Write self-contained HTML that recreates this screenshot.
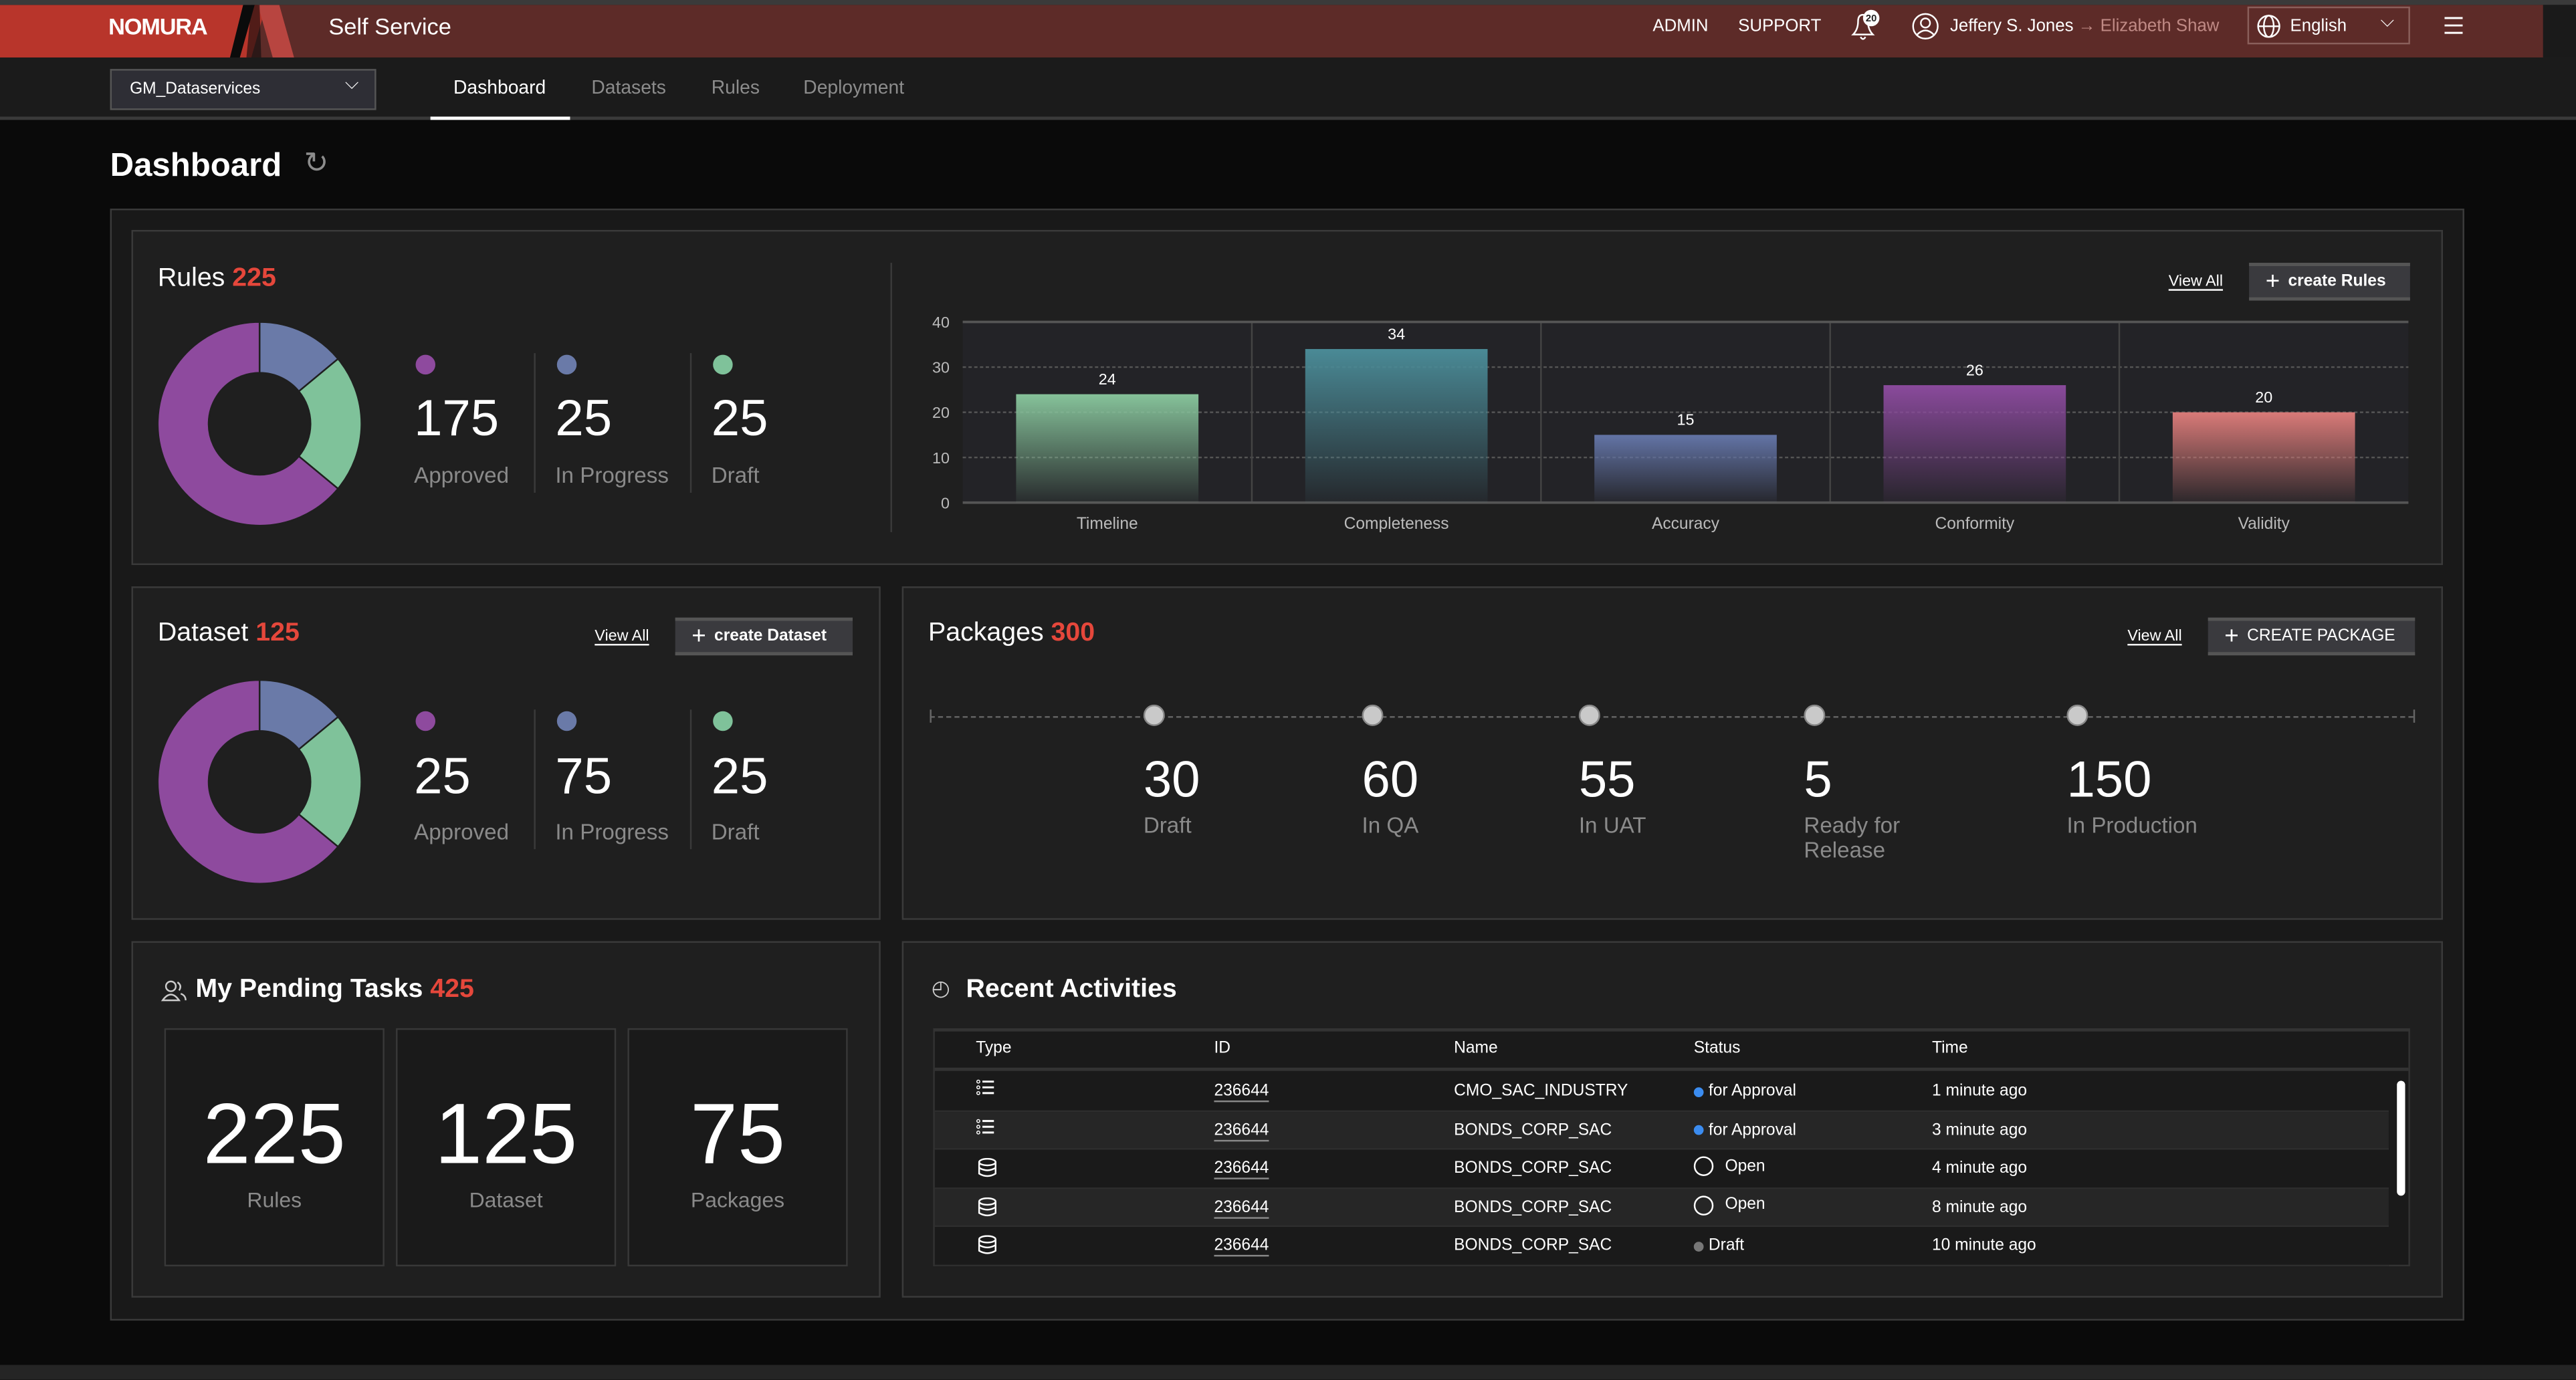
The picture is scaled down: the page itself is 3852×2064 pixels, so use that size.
<!DOCTYPE html>
<html><head><meta charset="utf-8">
<style>
*{box-sizing:border-box;margin:0;padding:0}
html,body{width:3852px;height:2062px;overflow:hidden;background:#0a0a0a}
body{font-family:"Liberation Sans",sans-serif;color:#fff}
#root{position:absolute;left:0;top:0;width:1568px;height:840px;transform:scale(2.45663);transform-origin:0 0;background:#0a0a0a}
.a{position:absolute}
.panel{position:absolute;background:#1f1f1f;border:1px solid #3a3a3a}
.t{position:absolute;white-space:nowrap}
.gray{color:#8c8c8c}
.red{color:#e5473b}
.btn{position:absolute;background:#3a3a3e;border-top:2px solid #555;border-bottom:2px solid #555;font-size:10px;font-weight:bold;display:flex;align-items:center;padding-left:10px}
.link{position:absolute;font-size:9.5px;text-decoration:underline;text-underline-offset:2px}
.num{position:absolute;font-size:31px}
.lab{position:absolute;font-size:13.5px;color:#8a8a8a}
.dot{position:absolute;width:12px;height:12px;border-radius:50%}
.sep{position:absolute;width:1px;background:#3a3a3a}
.box{position:absolute;background:#1a1a1a;border:1px solid #383838;top:626px;width:134px;height:145px}
.box .big{position:absolute;width:100%;text-align:center;top:34px;font-size:52px}
.box .sm{position:absolute;width:100%;text-align:center;top:96px;font-size:13px;color:#8a8a8a}
.row{position:absolute;left:569px;width:885px;height:23.5px;font-size:10px}
.row span{position:absolute;top:6px}
</style></head><body>
<div id="root">
<!-- header -->
<div class="a" style="left:0;top:0;width:1568px;height:3px;background:#3a3a3a"></div>
<div class="a" style="left:0;top:3px;width:1548px;height:32px;background:#5d2b28"></div>
<div class="a" style="left:1548px;top:3px;width:20px;height:32px;background:#1a1a1a"></div>
<svg class="a" style="left:0;top:3px" width="200" height="32">
<polygon points="0,0 148,0 140,32 0,32" fill="#b8352b"/>
<polygon points="148,0 157,0 147,32 140,32" fill="#0b0b0b"/>
<polygon points="155,0 162,0 153,32 146,32" fill="#b8352b"/>
<polygon points="157,0 170,0 179,32 166,32" fill="#b84540"/>
<polygon points="153,0 158,0 159,32 150,32" fill="#0b0b0b" opacity="0.6"/>
</svg>
<div class="t" style="left:66px;top:8px;font-size:14px;font-weight:bold;letter-spacing:-0.5px">NOMURA</div>
<div class="t" style="left:200px;top:8px;font-size:14px">Self Service</div>
<div class="t" style="left:1006px;top:10px;font-size:10.5px">ADMIN</div>
<div class="t" style="left:1058px;top:10px;font-size:10.5px">SUPPORT</div>
<svg class="a" style="left:1124px;top:5px" width="24" height="22">
<path d="M4 16 Q7 13 7 8 Q7 4 10 4 Q13 4 13 8 Q13 13 16 16 Z" fill="none" stroke="#fff" stroke-width="1"/>
<path d="M8.5 17.5 Q10 20 11.5 17.5" fill="none" stroke="#fff" stroke-width="1"/>
<circle cx="15" cy="6" r="5" fill="#fff"/>
<text x="15" y="8" font-size="6" text-anchor="middle" fill="#222" font-family="Liberation Sans" font-weight="bold">20</text>
</svg>
<svg class="a" style="left:1163px;top:7px" width="18" height="18">
<circle cx="9" cy="9" r="7.5" fill="none" stroke="#fff" stroke-width="1"/><circle cx="9" cy="7" r="2.8" fill="none" stroke="#fff" stroke-width="1"/><path d="M4 14 Q9 9 14 14" fill="none" stroke="#fff"/></svg>
<div class="t" style="left:1187px;top:10px;font-size:10.5px">Jeffery S. Jones <span style="color:#c08a85">→ Elizabeth Shaw</span></div>
<div class="a" style="left:1368px;top:4px;width:99px;height:23px;border:1px solid #8a5f5b"></div>
<svg class="a" style="left:1373px;top:8px" width="16" height="16"><circle cx="8" cy="8" r="6.5" fill="none" stroke="#fff"/><ellipse cx="8" cy="8" rx="3" ry="6.5" fill="none" stroke="#fff"/><line x1="1.5" y1="8" x2="14.5" y2="8" stroke="#fff"/></svg>
<div class="t" style="left:1394px;top:10px;font-size:10.5px">English</div>
<div class="t" style="left:1449px;top:7px;font-size:11px">⌵</div>
<svg class="a" style="left:1487px;top:10px" width="14" height="12"><path d="M1 1H12M1 5.5H12M1 10H12" stroke="#fff" stroke-width="1.2"/></svg>
<!-- subnav -->
<div class="a" style="left:0;top:35px;width:1568px;height:38px;background:#1b1b1b;border-bottom:2px solid #3a3a3a"></div>
<div class="a" style="left:67px;top:42px;width:162px;height:25px;background:#2e2e35;border:1px solid #555"></div>
<div class="t" style="left:79px;top:49px;font-size:10px">GM_Dataservices</div>
<div class="t" style="left:210px;top:45px;font-size:11px">⌵</div>
<div class="t" style="left:276px;top:48px;font-size:11.5px">Dashboard</div>
<div class="a" style="left:262px;top:71px;width:85px;height:2px;background:#fff"></div>
<div class="t gray" style="left:360px;top:48px;font-size:11.5px">Datasets</div>
<div class="t gray" style="left:433px;top:48px;font-size:11.5px">Rules</div>
<div class="t gray" style="left:489px;top:48px;font-size:11.5px">Deployment</div>
<div class="t" style="left:67px;top:90px;font-size:20px;font-weight:bold">Dashboard</div>
<div class="t gray" style="left:185px;top:89px;font-size:18px">↻</div>
<!-- container -->
<div class="a" style="left:67px;top:127px;width:1433px;height:677px;background:#191919;border:1px solid #3a3a3a"></div>
<!-- rules panel -->
<div class="panel" style="left:80px;top:140px;width:1407px;height:204px"></div>
<div class="t" style="left:96px;top:161px;font-size:16px">Rules <span class="red" style="font-weight:bold">225</span></div>
<svg class="a" id="donut1" style="left:96px;top:196px" width="124" height="124"></svg>
<div class="dot" style="left:253px;top:216px;background:#8e4a9e"></div>
<div class="dot" style="left:339px;top:216px;background:#6a7aa8"></div>
<div class="dot" style="left:434px;top:216px;background:#7fc29a"></div>
<div class="num" style="left:252px;top:237px">175</div><div class="lab" style="left:252px;top:282px">Approved</div>
<div class="sep" style="left:325px;top:215px;height:85px"></div>
<div class="num" style="left:338px;top:237px">25</div><div class="lab" style="left:338px;top:282px">In Progress</div>
<div class="sep" style="left:420px;top:215px;height:85px"></div>
<div class="num" style="left:433px;top:237px">25</div><div class="lab" style="left:433px;top:282px">Draft</div>
<div class="sep" style="left:542px;top:160px;height:164px"></div>
<div class="link" style="left:1320px;top:166px">View All</div>
<div class="btn" style="left:1369px;top:160px;width:98px;height:23px"><span style="font-size:15px;font-weight:normal;margin-right:5px">+</span>create Rules</div>
<svg class="a" id="barchart" style="left:540px;top:185px" width="940" height="150"></svg>
<!-- dataset panel -->
<div class="panel" style="left:80px;top:357px;width:456px;height:203px"></div>
<div class="t" style="left:96px;top:377px;font-size:16px">Dataset <span class="red" style="font-weight:bold">125</span></div>
<div class="link" style="left:362px;top:382px">View All</div>
<div class="btn" style="left:411px;top:376px;width:108px;height:23px"><span style="font-size:15px;font-weight:normal;margin-right:5px">+</span>create Dataset</div>
<svg class="a" id="donut2" style="left:96px;top:414px" width="124" height="124"></svg>
<div class="dot" style="left:253px;top:433px;background:#8e4a9e"></div>
<div class="dot" style="left:339px;top:433px;background:#6a7aa8"></div>
<div class="dot" style="left:434px;top:433px;background:#7fc29a"></div>
<div class="num" style="left:252px;top:455px">25</div><div class="lab" style="left:252px;top:499px">Approved</div>
<div class="sep" style="left:325px;top:432px;height:85px"></div>
<div class="num" style="left:338px;top:455px">75</div><div class="lab" style="left:338px;top:499px">In Progress</div>
<div class="sep" style="left:420px;top:432px;height:85px"></div>
<div class="num" style="left:433px;top:455px">25</div><div class="lab" style="left:433px;top:499px">Draft</div>
<!-- packages -->
<div class="panel" style="left:549px;top:357px;width:938px;height:203px"></div>
<div class="t" style="left:565px;top:377px;font-size:16px">Packages <span class="red" style="font-weight:bold">300</span></div>
<div class="link" style="left:1295px;top:382px">View All</div>
<div class="btn" style="left:1344px;top:376px;width:126px;height:23px;font-weight:normal"><span style="font-size:15px;margin-right:5px">+</span>CREATE PACKAGE</div>
<div class="a" style="left:566px;top:436px;width:903px;border-top:1px dashed #666"></div>
<div class="a" style="left:566px;top:432px;width:1px;height:8px;background:#666"></div>
<div class="a" style="left:1469px;top:432px;width:1px;height:8px;background:#666"></div>
<div id="pkgs"></div>
<!-- pending -->
<div class="panel" style="left:80px;top:573px;width:456px;height:217px"></div>
<svg class="a" style="left:98px;top:596px" width="16" height="14"><circle cx="6" cy="4.5" r="3" fill="none" stroke="#ccc"/><path d="M1 13 Q6 6 11 13 Z" fill="none" stroke="#ccc"/><path d="M10 2 Q13 4 11 7 M12 9 Q15 10 15 13" fill="none" stroke="#ccc"/></svg>
<div class="t" style="left:119px;top:594px;font-size:16px;font-weight:bold">My Pending Tasks <span class="red">425</span></div>
<div class="box" style="left:100px"><div class="big">225</div><div class="sm">Rules</div></div>
<div class="box" style="left:241px"><div class="big">125</div><div class="sm">Dataset</div></div>
<div class="box" style="left:382px"><div class="big">75</div><div class="sm">Packages</div></div>
<!-- recent -->
<div class="panel" style="left:549px;top:573px;width:938px;height:217px"></div>
<div class="t" style="left:567px;top:594px;font-size:13px;color:#ccc">◴</div>
<div class="t" style="left:588px;top:594px;font-size:16px;font-weight:bold">Recent Activities</div>
<div class="a" style="left:568px;top:626px;width:899px;height:145px;background:#1a1a1a;border:1px solid #333;border-top:2px solid #333"></div>
<div class="row" style="top:628px;height:24px;border-bottom:2px solid #333;width:897px"><span style="left:25px;top:5px">Type</span><span style="left:170px;top:5px">ID</span><span style="left:316px;top:5px">Name</span><span style="left:462px;top:5px">Status</span><span style="left:607px;top:5px">Time</span></div>
<div id="rows"></div>
<div class="a" style="left:1459px;top:658px;width:5px;height:70px;border-radius:3px;background:#fff"></div>
<div class="a" style="left:0;top:831px;width:1568px;height:9px;background:#252525"></div>
</div>
<script>
// donut data (share by slice)
const donutShares=[0.14,0.22,0.64];
const donutColors=['#6a7aa8','#7fc29a','#8e4a9e'];
function donut(id){
  const svg=document.getElementById(id);const cx=62,cy=62,R=62,r=31;
  const tot=donutShares.reduce((a,b)=>a+b,0);let a0=0;
  donutShares.forEach((v,i)=>{
    const a1=a0+v/tot*Math.PI*2;
    const p=(rad,ang)=>[cx+rad*Math.sin(ang),cy-rad*Math.cos(ang)];
    const [x0,y0]=p(R,a0),[x1,y1]=p(R,a1),[x2,y2]=p(r,a1),[x3,y3]=p(r,a0);
    const lg=(a1-a0)>Math.PI?1:0;
    const path=document.createElementNS('http://www.w3.org/2000/svg','path');
    path.setAttribute('d',`M${x0} ${y0}A${R} ${R} 0 ${lg} 1 ${x1} ${y1}L${x2} ${y2}A${r} ${r} 0 ${lg} 0 ${x3} ${y3}Z`);
    path.setAttribute('fill',donutColors[i]);path.setAttribute('stroke','#1f1f1f');path.setAttribute('stroke-width','1');
    
    
    svg.appendChild(path);a0=a1;
  });
}
donut('donut1');donut('donut2');

// bar chart data
const barCategories=['Timeline','Completeness','Accuracy','Conformity','Validity'];
const barValues=[24,34,15,26,20];
const barColors=['#86c29a','#4a8a96','#6374a6','#8a4a9c','#d97a78'];
const yTicks=[0,10,20,30,40];
(function(){
  const svg=document.getElementById('barchart');const NS='http://www.w3.org/2000/svg';
  const L=46,T=11,W=880,H=110,yMax=40;
  const y=v=>T+H-v/yMax*H; const colW=W/barCategories.length;
  let h=`<rect x="${L}" y="${T}" width="${W}" height="${H}" fill="#232327"/>`;
  h+='<defs>'+barColors.map((c,i)=>`<linearGradient id="g${i}" x1="0" y1="0" x2="0" y2="1"><stop offset="0" stop-color="${c}"/><stop offset="1" stop-color="${c}" stop-opacity="0.05"/></linearGradient>`).join('')+'</defs>';
  yTicks.forEach(t=>{ if(t>0&&t<yMax) h+=`<line x1="${L}" x2="${L+W}" y1="${y(t)}" y2="${y(t)}" stroke="#555" stroke-dasharray="2,1.5"/>`;
    h+=`<text x="${L-8}" y="${y(t)+3.5}" text-anchor="end" font-size="9.5" fill="#bbb" font-family="Liberation Sans">${t}</text>`;});
  for(let i=1;i<barCategories.length;i++) h+=`<line x1="${L+i*colW}" x2="${L+i*colW}" y1="${T}" y2="${T+H}" stroke="#444"/>`;
  h+=`<line x1="${L}" x2="${L+W}" y1="${T}" y2="${T}" stroke="#555" stroke-width="1.5"/><line x1="${L}" x2="${L+W}" y1="${T+H}" y2="${T+H}" stroke="#555" stroke-width="1.5"/>`;
  svg.innerHTML=h;
  barCategories.forEach((c,i)=>{
    const bx=L+i*colW+32.5,bw=111,top=y(barValues[i]);
    const rect=document.createElementNS(NS,'rect');
    rect.setAttribute('x',bx);rect.setAttribute('y',top);rect.setAttribute('width',bw);rect.setAttribute('height',T+H-top);rect.setAttribute('fill',`url(#g${i})`);
    
    
    svg.appendChild(rect);
    const v=document.createElementNS(NS,'text');v.textContent=barValues[i];
    v.setAttribute('x',bx+bw/2);v.setAttribute('y',top-6);v.setAttribute('text-anchor','middle');v.setAttribute('font-size','9.5');v.setAttribute('fill','#fff');v.setAttribute('font-family','Liberation Sans');
    
    
    svg.appendChild(v);
    const lb=document.createElementNS(NS,'text');lb.textContent=c;
    lb.setAttribute('x',bx+bw/2);lb.setAttribute('y',T+H+16);lb.setAttribute('text-anchor','middle');lb.setAttribute('font-size','10');lb.setAttribute('fill','#bbb');lb.setAttribute('font-family','Liberation Sans');
    
    
    svg.appendChild(lb);
  });
})();

// packages timeline data
const pkgValues=[30,60,55,5,150];
const pkgLabels=['Draft','In QA','In UAT','Ready for<br>Release','In Production'];
const pkgX=[702,835,967,1104,1264];
(function(){
  const c=document.getElementById('pkgs');let h='';
  pkgValues.forEach((v,i)=>{
    h+=`<div class="a" style="left:${pkgX[i]-6}px;top:429px;width:13px;height:13px;border-radius:50%;background:#c9c9c9;border:1px solid #888"></div>`;
    h+=`<div class="t" style="left:${pkgX[i]-6}px;top:457px;font-size:31px">${v}</div>`;
    h+=`<div class="a" style="left:${pkgX[i]-6}px;top:495px;font-size:13.5px;color:#8a8a8a;line-height:15px;white-space:nowrap">${pkgLabels[i]}</div>`;
  });
  c.innerHTML=h;
  c.querySelectorAll('div').forEach(d=>{
    
    
  });
})();

// activity rows
const actTypes=['rule','rule','dataset','dataset','dataset'];
const actNames=['CMO_SAC_INDUSTRY','BONDS_CORP_SAC','BONDS_CORP_SAC','BONDS_CORP_SAC','BONDS_CORP_SAC'];
const actStatus=['for Approval','for Approval','Open','Open','Draft'];
const actTimes=['1 minute ago','3 minute ago','4 minute ago','8 minute ago','10 minute ago'];
(function(){
  const c=document.getElementById('rows');let h='';
  actNames.forEach((n,i)=>{
    const top=653+i*23.6,bg=i%2?'#262626':'#1a1a1a';
    const icon=actTypes[i]=='rule'?'<span style="left:25px;top:3px;font-size:11px">⁝☰</span>'.replace('⁝☰','<svg width="12" height="12"><path d="M4 2.5H11M4 6H11M4 9.5H11" stroke="#fff" stroke-width="1.2"/><circle cx="1.5" cy="2.5" r="0.9" fill="none" stroke="#fff" stroke-width=".6"/><circle cx="1.5" cy="6" r="0.9" fill="none" stroke="#fff" stroke-width=".6"/><circle cx="1.5" cy="9.5" r="0.9" fill="none" stroke="#fff" stroke-width=".6"/></svg>'):'<span style="left:26px;top:5px"><svg width="12" height="12"><ellipse cx="6" cy="2.5" rx="5" ry="2" fill="none" stroke="#fff"/><path d="M1 2.5V9.5Q6 12.5 11 9.5V2.5M1 6Q6 9 11 6" fill="none" stroke="#fff"/></svg></span>';
    let st;
    if(actStatus[i]=='Open') st=`<span style="left:462px;top:4px;display:flex;align-items:center"><span style="position:static;display:inline-block;width:12px;height:12px;border:1px solid #fff;border-radius:50%;margin-right:7px"></span>Open</span>`;
    else st=`<span style="left:462px;display:flex;align-items:center"><span style="position:static;display:inline-block;width:6px;height:6px;border-radius:50%;background:${actStatus[i]=='Draft'?'#777':'#3b8cf0'};margin-right:3px"></span>${actStatus[i]}</span>`;
    h+=`<div class="row" style="top:${top}px;background:${bg};border-bottom:1px solid #2e2e2e">${icon}<span style="left:170px;text-decoration:underline;text-decoration-color:#888;text-underline-offset:3px">236644</span><span style="left:316px">${n}</span>${st}<span style="left:607px">${actTimes[i]}</span></div>`;
  });
  c.innerHTML=h;
  c.querySelectorAll('.row').forEach(d=>{
    
    
  });
})();
</script>
</body></html>
